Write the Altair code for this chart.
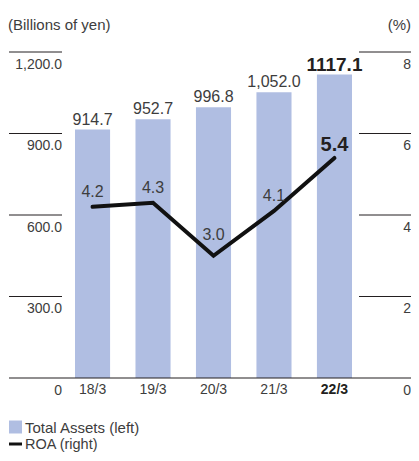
import altair as alt
import pandas as pd

# ---- data ----
years = ["18/3", "19/3", "20/3", "21/3", "22/3"]
assets = [914.7, 952.7, 996.8, 1052.0, 1117.1]
asset_labels = ["914.7", "952.7", "996.8", "1,052.0", "1117.1"]
roa = [4.2, 4.3, 3.0, 4.1, 5.4]
roa_labels = ["4.2", "4.3", "3.0", "4.1", "5.4"]
left_tick_values = [0, 300, 600, 900, 1200]
left_tick_labels = ["0", "300.0", "600.0", "900.0", "1,200.0"]
right_tick_values = [0, 2, 4, 6, 8]
right_tick_labels = ["0", "2", "4", "6", "8"]
legend_labels = ["Total Assets (left)", "ROA (right)"]
titles = ["(Billions of yen)", "(%)"]
highlight = "22/3"
dip = "20/3"

FONT = "Liberation Sans"
BAR = "#b0bee2"
TXT = "#3d3d3d"
DARK = "#231f20"

W = 403
RIGHT = 403

df = pd.DataFrame({"year": years, "assets": assets, "asset_label": asset_labels,
                   "roa": roa, "roa_label": roa_labels})

X = alt.Scale(domain=years, range=[67, 344], paddingInner=0.42, paddingOuter=0)
YL = alt.Scale(domain=[0, 1200], range=[370, 44])
YR = alt.Scale(domain=[0, 8], range=[370, 44])

xenc = alt.X("year:N", scale=X, axis=None, sort=years)
is_hl = alt.datum.year == highlight
not_hl = alt.datum.year != highlight

base = alt.Chart(df)
normal = base.transform_filter(not_hl)
hl = base.transform_filter(is_hl)

bars = base.mark_bar(color=BAR).encode(
    x=xenc, y=alt.Y("assets:Q", scale=YL, axis=None))

bar_text = normal.mark_text(baseline="alphabetic", dy=-5, font=FONT, fontSize=16, color=TXT).encode(
    x=xenc, y=alt.Y("assets:Q", scale=YL, axis=None), text="asset_label:N")
bar_text_hl = hl.mark_text(baseline="alphabetic", dy=-4, font=FONT, fontSize=19,
                           fontWeight="bold", color=DARK).encode(
    x=xenc, y=alt.Y("assets:Q", scale=YL, axis=None), text="asset_label:N")

line = base.mark_line(color="#111111", strokeWidth=4, strokeCap="round").encode(
    x=xenc, y=alt.Y("roa:Q", scale=YR, axis=None))

roa_text = normal.transform_filter(alt.datum.year != dip).mark_text(
    baseline="alphabetic", dy=-10, font=FONT, fontSize=16, color=TXT).encode(
    x=xenc, y=alt.Y("roa:Q", scale=YR, axis=None), text="roa_label:N")
roa_text_dip = normal.transform_filter(alt.datum.year == dip).mark_text(
    baseline="alphabetic", dy=-16, font=FONT, fontSize=16, color=TXT).encode(
    x=xenc, y=alt.Y("roa:Q", scale=YR, axis=None), text="roa_label:N")
roa_text_hl = hl.mark_text(baseline="alphabetic", dy=-7, font=FONT, fontSize=20,
                           fontWeight="bold", color=DARK).encode(
    x=xenc, y=alt.Y("roa:Q", scale=YR, axis=None), text="roa_label:N")

x_labels = normal.mark_text(baseline="middle", font=FONT, fontSize=14, color=TXT).encode(
    x=xenc, y=alt.value(382), text="year:N")
x_labels_hl = hl.mark_text(baseline="middle", font=FONT, fontSize=14, fontWeight="bold",
                           color=DARK).encode(
    x=xenc, y=alt.value(382), text="year:N")

lt = pd.DataFrame({"v": left_tick_values, "lab": left_tick_labels})
rt = pd.DataFrame({"v": right_tick_values, "lab": right_tick_labels})

left_lines = alt.Chart(lt).transform_filter(alt.datum.v > 0).mark_rule(
    color=DARK, strokeWidth=1).encode(
    y=alt.Y("v:Q", scale=YL, axis=None), x=alt.value(1), x2=alt.value(54))
left_text = alt.Chart(lt).mark_text(
    align="right", baseline="middle", dy=12.5, font=FONT, fontSize=14, color=TXT).encode(
    y=alt.Y("v:Q", scale=YL, axis=None), x=alt.value(54), text="lab:N")

right_lines = alt.Chart(rt).transform_filter(alt.datum.v > 0).mark_rule(
    color=DARK, strokeWidth=1).encode(
    y=alt.Y("v:Q", scale=YR, axis=None), x=alt.value(RIGHT - 52), x2=alt.value(RIGHT))
right_text = alt.Chart(rt).mark_text(
    align="right", baseline="middle", dy=12.5, font=FONT, fontSize=14, color=TXT).encode(
    y=alt.Y("v:Q", scale=YR, axis=None), x=alt.value(RIGHT), text="lab:N")

baseline = alt.Chart(pd.DataFrame({"v": [0]})).mark_rule(color=DARK, strokeWidth=1.2).encode(
    y=alt.Y("v:Q", scale=YL, axis=None), x=alt.value(1), x2=alt.value(RIGHT))

title_left = alt.Chart(pd.DataFrame({"t": [titles[0]]})).mark_text(
    align="left", baseline="alphabetic", font=FONT, fontSize=15, color=TXT).encode(
    x=alt.value(0), y=alt.value(22), text="t:N")
title_right = alt.Chart(pd.DataFrame({"t": [titles[1]]})).mark_text(
    align="right", baseline="alphabetic", font=FONT, fontSize=15, color=TXT).encode(
    x=alt.value(RIGHT), y=alt.value(22), text="t:N")

leg_sq = alt.Chart(pd.DataFrame({"t": [legend_labels[0]]})).mark_square(
    size=169, color=BAR, opacity=1, filled=True).encode(
    x=alt.value(7.5), y=alt.value(419))
leg_sq_text = alt.Chart(pd.DataFrame({"t": [legend_labels[0]]})).mark_text(
    align="left", baseline="middle", font=FONT, fontSize=15, color=TXT).encode(
    x=alt.value(17), y=alt.value(419.5), text="t:N")
leg_line = alt.Chart(pd.DataFrame({"t": [legend_labels[1]]})).mark_rule(
    color="#111111", strokeWidth=3).encode(
    x=alt.value(1), x2=alt.value(14), y=alt.value(436))
leg_line_text = alt.Chart(pd.DataFrame({"t": [legend_labels[1]]})).mark_text(
    align="left", baseline="middle", font=FONT, fontSize=14.5, color=TXT).encode(
    x=alt.value(17), y=alt.value(436.5), text="t:N")

chart = alt.layer(
    bars, left_lines, right_lines, baseline, left_text, right_text,
    line, bar_text, bar_text_hl, roa_text, roa_text_dip, roa_text_hl, x_labels, x_labels_hl,
    title_left, title_right, leg_sq, leg_sq_text, leg_line, leg_line_text,
).resolve_scale(y="independent").properties(
    width=W, height=445, padding=0,
    autosize=alt.AutoSizeParams(type="none"),
).configure_view(stroke=None)

chart.save("out.html", embed_options={"renderer": "svg", "actions": False})
